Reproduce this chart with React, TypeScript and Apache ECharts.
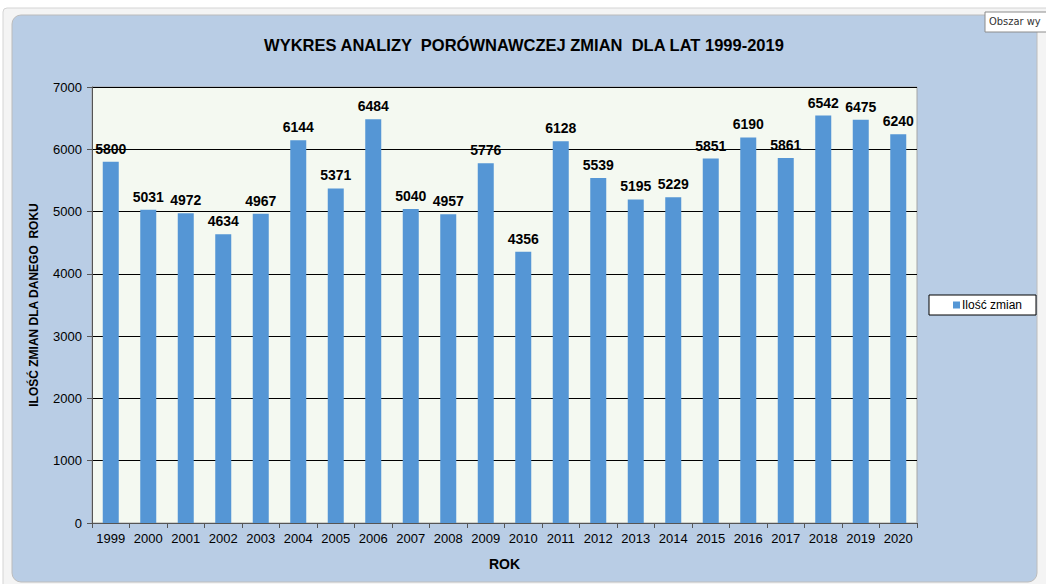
import React, { useEffect, useRef } from "react";
import * as echarts from "echarts";

const years = ["1999","2000","2001","2002","2003","2004","2005","2006","2007","2008","2009","2010","2011","2012","2013","2014","2015","2016","2017","2018","2019","2020"];
const values = [5800,5031,4972,4634,4967,6144,5371,6484,5040,4957,5776,4356,6128,5539,5195,5229,5851,6190,5861,6542,6475,6240];
const seriesName = "Ilość zmian";
const titleText = "WYKRES ANALIZY  PORÓWNAWCZEJ ZMIAN  DLA LAT 1999-2019";

const FONT = "'Liberation Sans', Arial, sans-serif";

export default function App() {
  const ref = useRef<HTMLDivElement>(null);
  useEffect(() => {
    if (!ref.current) return;
    const chart = echarts.init(ref.current, null, { renderer: "svg" });
    chart.setOption({
      animation: false,
      backgroundColor: "#ffffff",
      textStyle: { fontFamily: FONT },
      graphic: [
        { type: "rect", z: -10, shape: { x: 3, y: 8, width: 1050, height: 590, r: 4 }, style: { fill: "#f4f4f4", stroke: "#d4d4d4", lineWidth: 1 } },
        { type: "rect", z: -9, shape: { x: 12, y: 15, width: 1025, height: 567, r: 9 }, style: { fill: "#b9cde5", stroke: "#bcbcbc", lineWidth: 1 } },
        { type: "rect", z: 10, shape: { x: 985, y: 12, width: 70, height: 20 }, style: { fill: "#ffffff", stroke: "#8c8c8c", lineWidth: 1 } },
        { type: "text", z: 11, x: 989, y: 16, style: { text: "Obszar wy", fill: "#333333", fontSize: 11, fontFamily: "'DejaVu Sans Condensed', 'Liberation Sans Narrow', sans-serif" } },
      ],
      title: {
        text: titleText,
        left: 519,
        top: 31,
        textAlign: "center",
        textStyle: { fontSize: 16.5, fontWeight: "bold", color: "#000", fontFamily: FONT },
      },
      legend: {
        left: 929,
        top: 295,
        orient: "vertical",
        backgroundColor: "#ffffff",
        borderColor: "#000000",
        borderWidth: 1,
        borderRadius: 0,
        padding: [4, 14, 4, 24],
        itemWidth: 7,
        itemHeight: 7,
        itemGap: 2,
        icon: "rect",
        textStyle: { fontSize: 12, color: "#000", fontFamily: FONT, padding: [0, 0, 0, -3] },
        data: [seriesName],
      },
      grid: { left: 92, right: 129, top: 87, bottom: 61, show: true, backgroundColor: "#f4f9f1", borderColor: "#a6a6a6", borderWidth: 1 },
      xAxis: {
        type: "category",
        data: years,
        name: "ROK",
        nameLocation: "middle",
        nameGap: 34,
        nameTextStyle: { fontSize: 14, fontWeight: "bold", color: "#000", fontFamily: FONT },
        axisLine: { lineStyle: { color: "#555555", width: 1 } },
        axisTick: { show: true, alignWithLabel: false, length: 5, lineStyle: { color: "#555555" } },
        axisLabel: { fontSize: 13, color: "#000", margin: 9, interval: 0, fontFamily: FONT },
      },
      yAxis: {
        type: "value",
        min: 0,
        max: 7000,
        interval: 1000,
        name: "ILOŚĆ ZMIAN DLA DANEGO  ROKU",
        nameLocation: "middle",
        nameGap: 52,
        nameTextStyle: { fontSize: 12, fontWeight: "bold", color: "#000", fontFamily: FONT },
        axisLine: { show: true, lineStyle: { color: "#555555", width: 1 } },
        axisTick: { show: true, length: 5, inside: false, lineStyle: { color: "#555555" } },
        axisLabel: { fontSize: 13, color: "#000", margin: 10, fontFamily: FONT, formatter: (v: number) => String(v) },
        splitLine: { show: true, lineStyle: { color: "#000000", width: 1 } },
      },
      series: [
        {
          name: seriesName,
          type: "bar",
          data: values,
          barWidth: 16,
          itemStyle: { color: "#5596d5" },
          label: {
            show: true,
            position: "top",
            distance: 6,
            fontSize: 14,
            fontWeight: "bold",
            color: "#000",
            fontFamily: FONT,
          },
        },
      ],
    });
    return () => chart.dispose();
  }, []);
  return (
    <div style={{ position: "fixed", left: 0, top: 0, width: 1046, height: 584, overflow: "hidden" }}>
      <div ref={ref} style={{ width: 1046, height: 584 }} />
    </div>
  );
}
